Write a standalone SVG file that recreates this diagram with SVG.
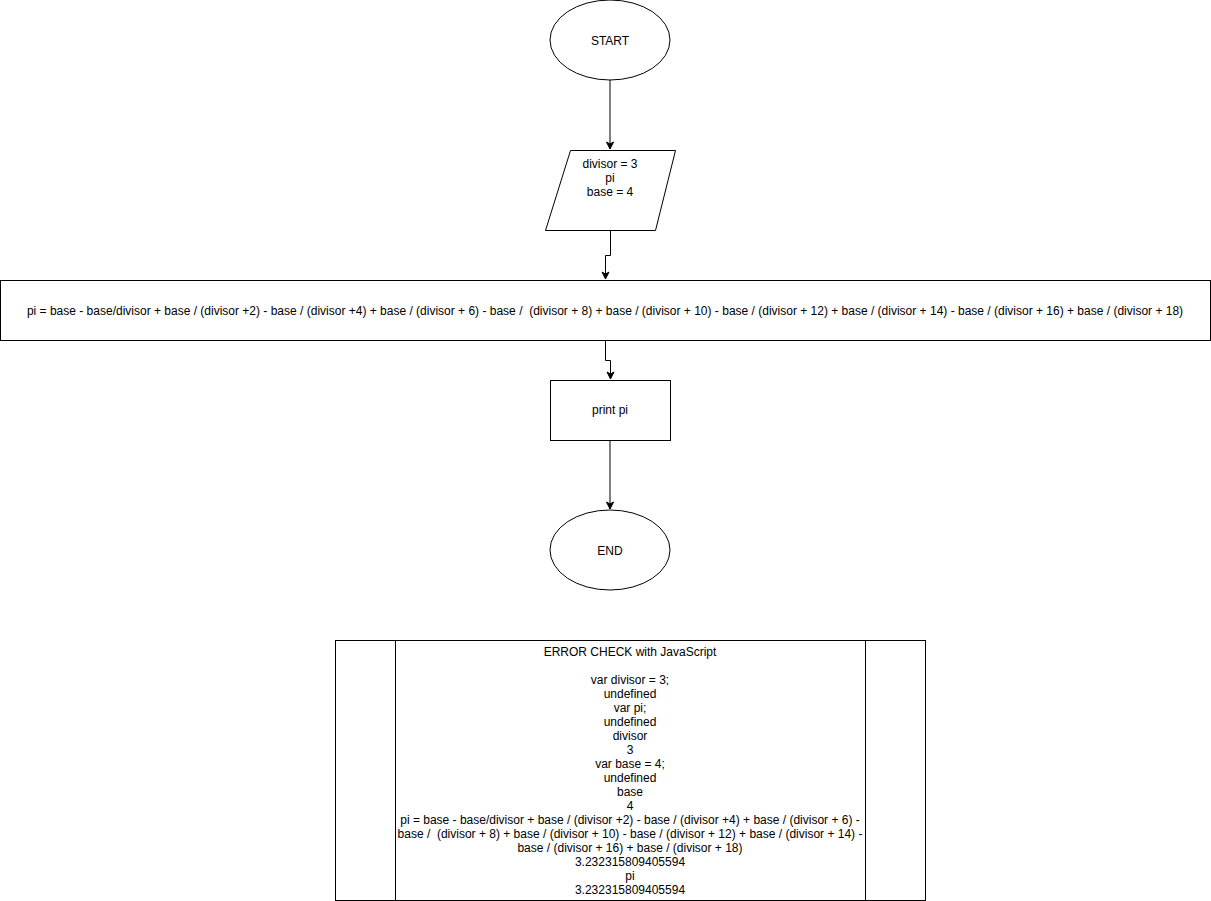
<svg xmlns="http://www.w3.org/2000/svg" width="1211" height="901" viewBox="0 0 1211 901">
<style>
.s{fill:#fff;stroke:#000;stroke-width:1}
.t{font-family:"Liberation Sans",Arial,sans-serif;font-size:12px;fill:#000;text-anchor:middle}
.c{fill:none;stroke:#000;stroke-width:1}
</style>
<defs>
<marker id="a" markerWidth="10" markerHeight="10" refX="8" refY="5" orient="auto" markerUnits="userSpaceOnUse">
<path d="M1,1.5 L8,5 L1,8.5 L3,5 Z" fill="#000" stroke="#000" stroke-width="1"/>
</marker>
</defs>
<rect width="1211" height="901" fill="#fff"/>
<g id="connectors">
<path class="c" d="M610,80 L610,149" marker-end="url(#a)"/>
<path class="c" d="M610.5,230 L610.5,255.5 L605.5,255.5 L605.5,279" marker-end="url(#a)"/>
<path class="c" d="M605.5,340 L605.5,360.5 L610.5,360.5 L610.5,379" marker-end="url(#a)"/>
<path class="c" d="M610,440 L610,509" marker-end="url(#a)"/>
</g>
<g id="start">
<ellipse class="s" cx="610" cy="40" rx="60" ry="40"/>
<text class="t" x="610" y="45">START</text>
</g>
<g id="input">
<polygon class="s" points="570.5,150.5 675.5,150.5 655.5,230.5 545.5,230.5"/>
<text class="t" x="610" y="168">divisor = 3</text>
<text class="t" x="610" y="182">pi</text>
<text class="t" x="610" y="196">base = 4</text>
</g>
<g id="calc">
<rect class="s" x="0.5" y="280.5" width="1210" height="60"/>
<text class="t" x="605" y="315" xml:space="preserve">pi = base - base/divisor + base / (divisor +2) - base / (divisor +4) + base / (divisor + 6) - base /  (divisor + 8) + base / (divisor + 10) - base / (divisor + 12) + base / (divisor + 14) - base / (divisor + 16) + base / (divisor + 18)</text>
</g>
<g id="print">
<rect class="s" x="550.5" y="380.5" width="120" height="60"/>
<text class="t" x="610" y="414">print pi</text>
</g>
<g id="end">
<ellipse class="s" cx="610" cy="550" rx="60" ry="40"/>
<text class="t" x="610" y="555">END</text>
</g>
<g id="errorcheck">
<rect class="s" x="335.5" y="640.5" width="590" height="260"/>
<line class="c" x1="395.5" y1="640.5" x2="395.5" y2="900.5"/>
<line class="c" x1="865.5" y1="640.5" x2="865.5" y2="900.5"/>
<text class="t" x="630" xml:space="preserve"><tspan x="630" y="656">ERROR CHECK with JavaScript</tspan><tspan x="630" y="684">var divisor = 3;</tspan><tspan x="630" y="698">undefined</tspan><tspan x="630" y="712">var pi;</tspan><tspan x="630" y="726">undefined</tspan><tspan x="630" y="740">divisor</tspan><tspan x="630" y="754">3</tspan><tspan x="630" y="768">var base = 4;</tspan><tspan x="630" y="782">undefined</tspan><tspan x="630" y="796">base</tspan><tspan x="630" y="810">4</tspan><tspan x="630" y="824">pi = base - base/divisor + base / (divisor +2) - base / (divisor +4) + base / (divisor + 6) -</tspan><tspan x="630" y="838">base /  (divisor + 8) + base / (divisor + 10) - base / (divisor + 12) + base / (divisor + 14) -</tspan><tspan x="630" y="852">base / (divisor + 16) + base / (divisor + 18)</tspan><tspan x="630" y="866">3.232315809405594</tspan><tspan x="630" y="880">pi</tspan><tspan x="630" y="894">3.232315809405594</tspan></text>
</g>
</svg>
